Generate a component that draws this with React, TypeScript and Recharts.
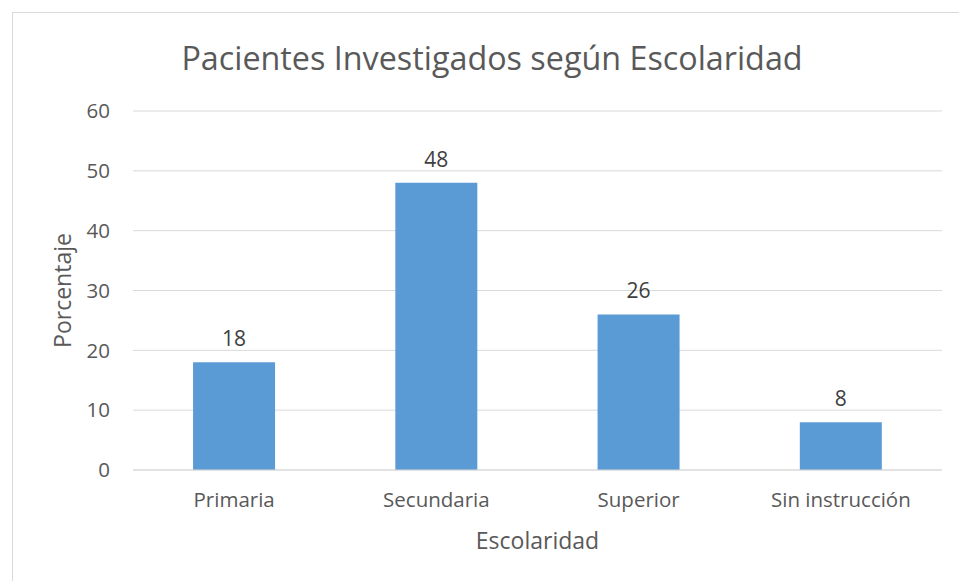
import { Bar, BarChart, CartesianGrid, LabelList, XAxis, YAxis } from 'recharts'

const categories = ['Primaria', 'Secundaria', 'Superior', 'Sin instrucción']
const porcentaje = [18, 48, 26, 8]
const yTicks = [0, 10, 20, 30, 40, 50, 60]

const data = categories.map((c, i) => ({ nivel: c, valor: porcentaje[i] }))

const font = '"Open Sans", sans-serif'
const textColor = '#595959'

export default function App() {
  return (
    <div style={{ position: 'absolute', left: 0, top: 0, width: 959, height: 581, overflow: 'hidden', background: '#fff', fontFamily: font }}>
      <div
        style={{
          position: 'absolute',
          left: 12,
          top: 12,
          width: 960,
          height: 620,
          border: '1px solid #d9d9d9',
        }}
      />
      <div
        style={{
          position: 'absolute',
          left: 0,
          top: 37,
          width: 984,
          textAlign: 'center',
          fontSize: 32.3,
          color: textColor,
          lineHeight: '40px',
        }}
      >
        Pacientes Investigados según Escolaridad
      </div>
      <div style={{ position: 'absolute', left: 0, top: 0 }}>
        <BarChart
          width={959}
          height={581}
          data={data}
          margin={{ top: 111, right: 17, left: 0, bottom: 21 }}
          barCategoryGap="29.7%"
        >
          <CartesianGrid vertical={false} stroke="#d9d9d9" />
          <XAxis
            dataKey="nivel"
            height={90}
            tickSize={0}
            tickMargin={22}
            axisLine={{ stroke: '#d9d9d9' }}
            tick={{ fill: textColor, fontSize: 20.5, fontFamily: font }}
            label={{ value: 'Escolaridad', position: 'insideBottom', offset: 11, fill: textColor, fontSize: 23, fontFamily: font }}
          />
          <YAxis
            width={133}
            domain={[0, 60]}
            ticks={yTicks}
            tickSize={0}
            tickMargin={23}
            axisLine={false}
            tick={{ fill: textColor, fontSize: 20.5, fontFamily: font }}
            label={{ value: 'Porcentaje', angle: -90, position: 'center', dx: -4, fill: textColor, fontSize: 23, fontFamily: font }}
          />
          <Bar dataKey="valor" fill="#5b9bd5" isAnimationActive={false}>
            <LabelList dataKey="valor" position="top" offset={16} fill="#404040" fontSize={21} fontFamily={font} />
          </Bar>
        </BarChart>
      </div>
    </div>
  )
}
